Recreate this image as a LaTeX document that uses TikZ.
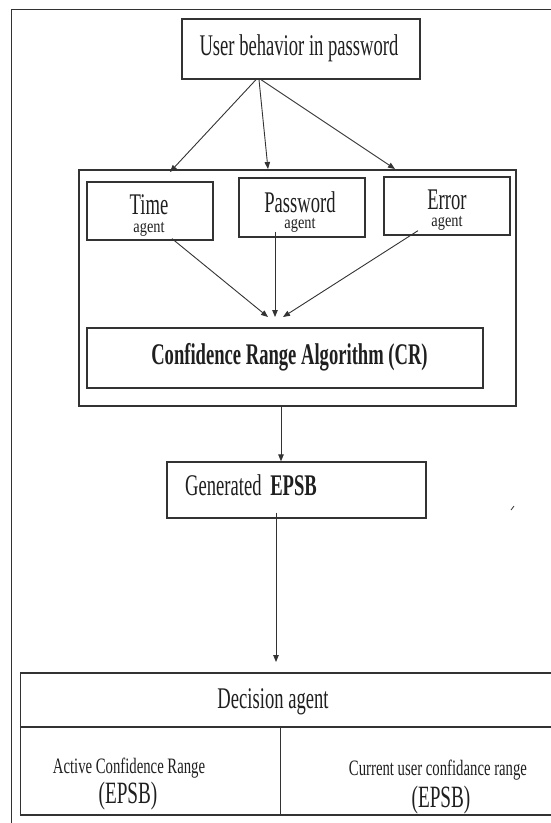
\documentclass[tikz,border=0pt]{standalone}
\usepackage{fontspec}
\setmainfont{Liberation Serif}[FakeStretch=0.62]
\newfontfamily\agentfont{Liberation Serif}[FakeStretch=0.8]
\newfontfamily\cellfont{Liberation Serif}[FakeStretch=0.67]
\usetikzlibrary{arrows.meta}
\definecolor{linegray}{HTML}{333333}
\newcommand{\agentsize}{\agentfont\fontsize{18}{20}\selectfont}
\tikzset{
  box/.style={draw=linegray, line width=1.3pt, inner sep=0pt, rectangle},
  arr/.style={draw=linegray, line width=0.9pt, -{Triangle[length=7pt,width=5.5pt]}},
  big/.style={font=\fontsize{30}{32}\selectfont, inner sep=0pt, anchor=base, text=black!88},
  bigb/.style={font=\fontsize{30}{32}\selectfont\bfseries, inner sep=0pt, anchor=base, text=black!88},
  agentlbl/.style={font=\fontsize{30}{32}\selectfont, inner sep=0pt, anchor=north, align=center, text=black!88},
  cell/.style={font=\cellfont\fontsize{22}{24}\selectfont, inner sep=0pt, anchor=base, text=black!88},
  frame/.style={draw=linegray, line width=1.3pt}
}
\begin{document}
\begin{tikzpicture}[x=1pt,y=-1pt]
\useasboundingbox (0,0) rectangle (551,823);
% outer frame (top and left edges visible)
\draw[frame] (551,9.5) -- (11.5,9.5) -- (11.5,823);

% top box
\node[box, minimum width=238pt, minimum height=60pt] (user) at (301,49) {};
\node[big] (usertxt) at (299,55) {User behavior in password};

% container
\node[box, minimum width=437pt, minimum height=236pt] (cont) at (297.5,288) {};

% agent boxes
\node[box, minimum width=126pt, minimum height=58pt] (time) at (150,211) {};
\node[box, minimum width=126pt, minimum height=59pt] (pass) at (302,207.5) {};
\node[box, minimum width=126pt, minimum height=58pt] (err) at (447,206) {};
\node[agentlbl] (timetxt) at (149,194.5) {Time\\[-14pt]{\agentsize agent}};
\node[agentlbl] (passtxt) at (300,191.5) {Password\\[-16pt]{\agentsize agent}};
\node[agentlbl] (errtxt) at (447,190) {Error\\[-15pt]{\agentsize agent}};

% CR box
\node[box, minimum width=396pt, minimum height=60pt] (cr) at (285,358) {};
\node[bigb] (crtxt) at (289.5,364) {Confidence Range Algorithm (CR)};

% arrows from user behaviour
\coordinate (tipa) at (170,172);
\coordinate (tipb) at (268,169);
\coordinate (tipc) at (395,169);
\draw[arr] ([xshift=-45pt]user.south) -- (tipa);
\draw[arr] ([xshift=-42pt]user.south) -- (tipb);
\draw[arr] ([xshift=-40pt]user.south) -- (tipc);

% arrows into CR
\coordinate (cra) at (268,317);
\coordinate (crb) at (275,317);
\coordinate (crc) at (283,317);
\draw[arr] ([xshift=22pt,yshift=2pt]time.south) -- (cra);
\draw[arr] ([xshift=-27pt,yshift=6pt]pass.south) -- (crb);
\draw[arr] ([xshift=-29pt,yshift=5pt]err.south) -- (crc);

% generated box
\node[box, minimum width=259pt, minimum height=56pt] (gen) at (296.5,490) {};
\node[big, anchor=base west] (gentxt) at (185,495) {Generated\hspace{4pt} \textbf{EPSB}};
\draw[arr] ([xshift=-16.5pt]cont.south) -- ([xshift=-15.5pt]gen.north);

% arrow to decision table
\coordinate (dtop) at (276,662);
\draw[arr] ([xshift=-20.5pt,yshift=6pt]gen.south) -- (dtop);

% decision table
\draw[frame] (551,673) -- (20.5,673) -- (20.5,815) -- (551,815);
\draw[frame] (20.5,727) -- (551,727);
\draw[frame, line width=1pt] (280,727) -- (280,815);
\node[big] (dectxt) at (273,708) {Decision agent};
\node[cell] (acttxt) at (129,773) {Active Confidence Range};
\node[big, font=\fontsize{31}{33}\selectfont] (actepsb) at (128,803) {(EPSB)};
\node[cell] (curtxt) at (438,775) {Current user confidance range};
\node[big, font=\fontsize{31}{33}\selectfont] (curepsb) at (441,807) {(EPSB)};

% small stray mark
\draw[linegray, line width=0.8pt] (511,510) -- (514,506);
\end{tikzpicture}
\end{document}
